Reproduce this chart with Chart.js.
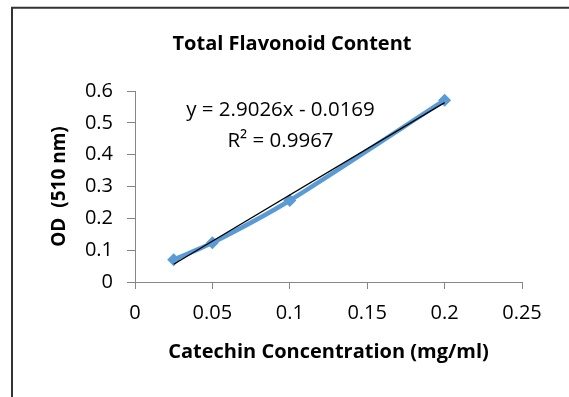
<!DOCTYPE html>
<html><head><meta charset="utf-8">
<script src="https://cdn.jsdelivr.net/npm/chart.js@4.4.1/dist/chart.umd.min.js"></script>
<style>html,body{margin:0;padding:0;background:#fff;overflow:hidden}#wrap{width:569px;height:397px;position:relative}</style>
</head><body><div id="wrap"><canvas id="c" width="569" height="397"></canvas></div>
<script>
const chartTitle = 'Total Flavonoid Content';
const xAxisTitle = 'Catechin Concentration (mg/ml)';
const yAxisTitle = 'OD  (510 nm)';
const concentration = [0.025, 0.05, 0.1, 0.2];
const odValues = [0.07, 0.123, 0.256, 0.571];
const trendX = [0.025, 0.2];
const trendY = [0.0557, 0.5636];
const xTickLabels = ['0', '0.05', '0.1', '0.15', '0.2', '0.25'];
const yTickLabels = ['0', '0.1', '0.2', '0.3', '0.4', '0.5', '0.6'];
const equationLines = ['y = 2.9026x - 0.0169', 'R\u00B2 = 0.9967'];
const equationAnchorX = 0.094;
const equationAnchorY = [0.54, 0.443];

const FONT = "'Open Sans', 'DejaVu Sans', sans-serif";
const AXIS_GREY = '#868686';
const BLUE = '#5B9BD5';

const decor = {
  id: 'decor',
  beforeDraw(chart) {
    const ctx = chart.ctx;
    ctx.save();
    ctx.fillStyle = '#fff';
    ctx.fillRect(0, 0, chart.width, chart.height);
    ctx.strokeStyle = '#333';
    ctx.lineWidth = 2;
    ctx.beginPath();
    ctx.moveTo(12, chart.height + 5);
    ctx.lineTo(12, 7.7);
    ctx.lineTo(chart.width + 5, 7.7);
    ctx.stroke();
    ctx.restore();
  },
  afterDatasetsDraw(chart) {
    const ctx = chart.ctx;
    const xs = chart.scales.x, ys = chart.scales.y;
    ctx.save();
    ctx.fillStyle = '#000';
    ctx.font = '20.5px ' + FONT;
    ctx.textAlign = 'center';
    ctx.textBaseline = 'middle';
    equationLines.forEach((t, i) => {
      ctx.fillText(t, xs.getPixelForValue(equationAnchorX), ys.getPixelForValue(equationAnchorY[i]));
    });
    ctx.restore();
  }
};

new Chart(document.getElementById('c'), {
  type: 'scatter',
  data: {
    datasets: [
      {
        label: 'Linear trend',
        data: trendX.map((x, i) => ({ x: x, y: trendY[i] })),
        showLine: true,
        borderColor: '#000',
        borderWidth: 1.3,
        pointRadius: 0,
        tension: 0
      },
      {
        label: 'OD',
        data: concentration.map((x, i) => ({ x: x, y: odValues[i] })),
        showLine: true,
        borderColor: BLUE,
        borderWidth: 4.5,
        tension: 0.25,
        pointStyle: 'rectRot',
        pointRadius: 6.5,
        pointBackgroundColor: BLUE,
        pointBorderColor: BLUE,
        pointBorderWidth: 0
      }
    ]
  },
  options: {
    responsive: false,
    animation: false,
    devicePixelRatio: 1,
    layout: { padding: { left: 15, right: 0, top: 0, bottom: 0 } },
    plugins: {
      legend: { display: false },
      tooltip: { enabled: false },
      title: {
        display: true,
        text: chartTitle,
        color: '#000',
        font: { family: FONT, size: 20, weight: 'bold' },
        padding: { top: 32, bottom: 35 }
      }
    },
    scales: {
      x: {
        type: 'linear',
        min: 0, max: 0.25,
        afterFit(s) { s.height = 115; s.paddingRight = 47; },
        ticks: {
          stepSize: 0.05,
          color: '#000',
          padding: 12,
          maxRotation: 0,
          font: { family: FONT, size: 20 },
          callback: (v, i) => xTickLabels[i]
        },
        grid: { display: true, drawOnChartArea: false, drawTicks: true, tickLength: 7, color: AXIS_GREY, lineWidth: 1 },
        border: { display: true, color: AXIS_GREY, width: 1 },
        title: {
          display: true,
          text: xAxisTitle,
          color: '#000',
          font: { family: FONT, size: 20, weight: 'bold' },
          padding: { top: 33, bottom: 33 }
        }
      },
      y: {
        type: 'linear',
        min: 0, max: 0.6,
        afterFit(s) { s.width = 120; },
        ticks: {
          stepSize: 0.1,
          color: '#000',
          padding: 14,
          font: { family: FONT, size: 20 },
          callback: (v, i) => yTickLabels[i]
        },
        grid: { display: true, drawOnChartArea: false, drawTicks: true, tickLength: 8, color: AXIS_GREY, lineWidth: 1 },
        border: { display: true, color: AXIS_GREY, width: 1 },
        title: {
          display: true,
          text: yAxisTitle,
          color: '#000',
          font: { family: FONT, size: 19, weight: 'bold' },
          padding: { top: 33.6, bottom: 33.6 }
        }
      }
    }
  },
  plugins: [decor]
});
</script>
</body></html>
